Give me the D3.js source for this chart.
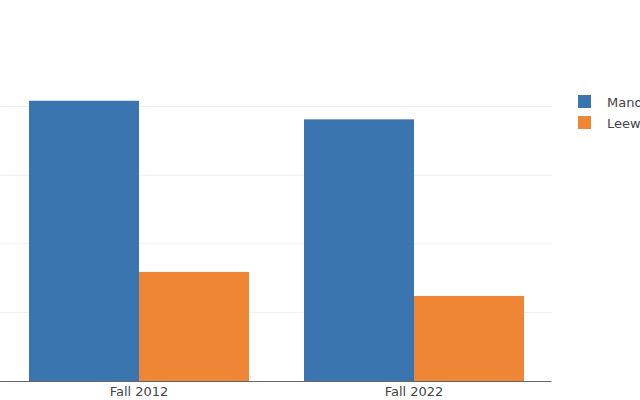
<!DOCTYPE html>
<html>
<head>
<meta charset="utf-8">
<script src="https://cdn.jsdelivr.net/npm/d3@7"></script>
<style>
  html, body { margin: 0; padding: 0; background: #fff; overflow: hidden; }
  svg { display: block; }
  text { font-family: "DejaVu Sans", Verdana, sans-serif; fill: #444; }
</style>
</head>
<body>
<svg id="chart" width="640" height="400"></svg>
<script>
const categories = ["Fall 2012", "Fall 2022"];
const seriesNames = ["Manoa", "Leeward"];
const manoa = [20429, 19074];
const leeward = [7950, 6200];
const yTicks = [0, 5000, 10000, 15000, 20000];

const colors = ["#3a75af", "#ef8636"];
const series = [manoa, leeward];

const svg = d3.select("#chart");
const plot = { left: 1.5, right: 551.5, top: 86, bottom: 381 };

const x = d3.scaleBand().domain(categories).range([plot.left, plot.right]).paddingInner(0).paddingOuter(0);
const inner = d3.scaleBand().domain(seriesNames).range([0, x.bandwidth()]).paddingInner(0).paddingOuter(0.25);
const yMax = d3.max(series.flat()) * 1.0526;
const y = d3.scaleLinear().domain([0, yMax]).range([plot.bottom, plot.top]);

// gridlines
svg.append("g").selectAll("line").data(yTicks.filter(d => d > 0)).join("line")
  .attr("x1", plot.left - 2).attr("x2", plot.right)
  .attr("y1", d => y(d)).attr("y2", d => y(d))
  .attr("stroke", "#eeeeee").attr("stroke-width", 1);

// bars
seriesNames.forEach((name, si) => {
  svg.append("g").selectAll("rect").data(categories).join("rect")
    .attr("x", c => x(c) + inner(name))
    .attr("width", inner.bandwidth())
    .attr("y", (c, i) => y(series[si][i]))
    .attr("height", (c, i) => y(0) - y(series[si][i]))
    .attr("fill", colors[si]);
});

// x axis line
svg.append("line")
  .attr("x1", plot.left - 2).attr("x2", plot.right)
  .attr("y1", plot.bottom + 0.5).attr("y2", plot.bottom + 0.5)
  .attr("stroke", "#666").attr("stroke-width", 1);

// x tick labels
svg.append("g").selectAll("text").data(categories).join("text")
  .attr("x", c => x(c) + x.bandwidth() / 2)
  .attr("y", plot.bottom + 15)
  .attr("text-anchor", "middle").attr("font-size", 13)
  .text(c => c);

// legend
const legend = svg.append("g").attr("transform", "translate(578,95)");
seriesNames.forEach((name, i) => {
  const g = legend.append("g").attr("transform", `translate(0,${i * 21})`);
  g.append("rect").attr("width", 13).attr("height", 13).attr("fill", colors[i]);
  g.append("text").attr("x", 29).attr("y", 11.5).attr("font-size", 13).text(name);
});
</script>
</body>
</html>
